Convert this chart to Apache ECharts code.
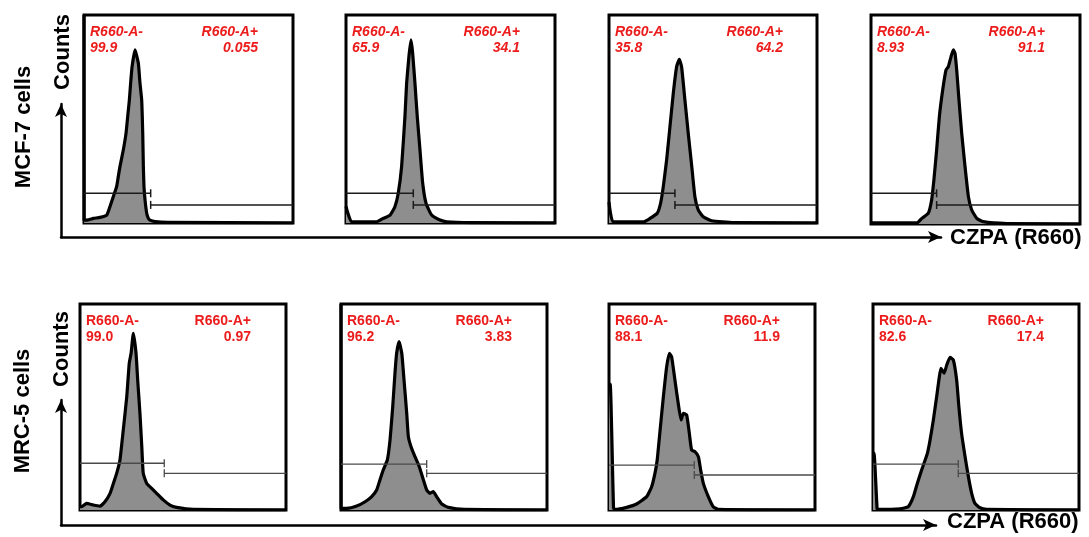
<!DOCTYPE html>
<html>
<head>
<meta charset="utf-8">
<script src="https://cdn.jsdelivr.net/npm/echarts@6/dist/echarts.min.js"></script>
<style>html,body{margin:0;padding:0;background:#fff}#c{width:1089px;height:537px}</style>
</head>
<body>
<div id="c"></div>
<script>
// ---------- DATA ----------
const rowLabels = ['MCF-7 cells', 'MRC-5 cells'];
const yAxisName = 'Counts';
const xAxisName = 'CZPA (R660)';
const negGateName = 'R660-A-';
const posGateName = 'R660-A+';
// percentages in each gate (panels: MCF-7 x4, MRC-5 x4)
const negPct = ['99.9', '65.9', '35.8', '8.93', '99.0', '96.2', '88.1', '82.6'];
const posPct = ['0.055', '34.1', '64.2', '91.1', '0.97', '3.83', '11.9', '17.4'];
// gate boundary (channel, 0-100) and the heights of the two gate bars (% of max)
const gateX = [31.9, 32.2, 31.7, 31.4, 40.9, 41.6, 41.4, 41.4];
const gateNegY = [14.3, 14.3, 14.3, 14.7, 22.7, 22.3, 21.8, 22.3];
const gatePosY = [8.7, 8.7, 8.7, 9.1, 17.8, 17.8, 17.0, 17.8];

// histograms: [channel (0-100), counts (% of panel max)]
const mcf7_1 = [[0,100],[0.05,1.4],[1.4,1.4],[4.5,2.2],[7.7,2.7],[10.9,3.8],[12.4,7.8],[14.0,12.6],[15.6,17.5],[16.4,22.3],[17.2,27.1],[18.8,35.1],[20.1,43.1],[20.9,51.1],[21.7,59.1],[22.3,67.1],[23.0,75.1],[24.4,83.2],[26.0,76.8],[26.8,67.1],[27.6,59.1],[28.1,43.1],[28.4,27.1],[28.7,17.5],[29.2,11.1],[30.0,4.7],[30.8,2.2],[31.6,1.4],[34.0,0.7],[40,0.3],[100,0]];
const mcf7_2 = [[0,8],[2.7,0.6],[14.7,0.6],[17.8,2.2],[21.1,3.8],[23.4,7.8],[25.0,14.3],[26.6,27.1],[28.2,51.1],[29.0,67.1],[30.1,80.0],[31.1,88.0],[31.9,81.6],[33.0,67.1],[34.1,51.1],[35.4,35.1],[36.7,19.1],[38.3,9.5],[41.0,3.8],[45.0,1.4],[48.2,0.6],[60,0.2],[100,0]];
const mcf7_3 = [[0,10],[2,0.5],[16.5,0.5],[19.7,2.2],[23.2,4.7],[24.8,9.5],[26.1,17.5],[27.7,30.3],[29.3,46.3],[30.9,62.3],[32.5,75.1],[33.8,78.7],[34.9,75.1],[36.5,59.1],[38.1,43.1],[39.8,27.1],[41.3,12.6],[42.9,6.3],[45.3,3.0],[49.4,1.1],[60,0.2],[100,0]];
const mcf7_4 = [[0,0.5],[21.9,0.5],[24.3,2.7],[27.4,5.1],[29.0,11.5],[30.1,21.1],[31.4,35.4],[32.7,51.3],[34.3,64.1],[35.9,73.7],[37.0,75.3],[38.3,80.1],[39.4,83.3],[40.2,81.7],[41.0,73.7],[42.1,59.3],[43.4,43.4],[45.0,27.4],[46.6,13.1],[48.2,6.7],[50.6,2.7],[53.7,1.1],[65,0.2],[100,0]];
const mrc5_1 = [[0,1.6],[0.8,1.6],[3.2,3.2],[6.5,2.4],[9.7,1.9],[12.1,4.0],[14.6,8.1],[16.2,12.9],[17.8,17.8],[19.4,24.3],[21.0,38.8],[22.7,55.0],[23.9,71.2],[24.8,76.1],[25.9,85.8],[27.2,76.1],[28.0,63.1],[29.1,46.9],[30.0,30.7],[30.7,17.8],[32.4,12.9],[34.8,10.5],[37.2,8.1],[40.4,4.9],[43.7,2.4],[46.9,1.3],[55,0.3],[100,0]];
const mrc5_2 = [[0,100],[0.05,0.8],[2.8,0.8],[7.6,1.9],[11.7,4.0],[14.9,6.5],[17.3,9.7],[18.9,14.6],[20.5,19.4],[22.5,24.3],[23.8,34.0],[25.1,50.1],[26.2,66.4],[27.0,76.1],[28.2,81.7],[29.5,76.1],[30.6,63.1],[31.9,46.9],[32.7,35.6],[34.0,30.7],[35.9,25.9],[38.0,21.0],[40.0,14.6],[41.6,9.7],[43.2,8.1],[44.8,8.9],[46.4,6.5],[48.9,2.9],[52.1,1.3],[60,0.3],[100,0]];
const mrc5_3 = [[0,61],[0.6,61],[2.2,1],[2.9,0.3],[8.6,1.3],[13.4,2.9],[18.3,6.5],[20.7,11.3],[22.3,17.8],[23.4,24.3],[24.8,38.8],[26.4,55.0],[28.0,69.6],[29.3,76.1],[30.4,74.4],[32.0,63.1],[33.6,51.8],[35.0,43.7],[36.1,46.9],[37.7,46.1],[39.0,37.2],[40.1,29.1],[41.7,28.3],[43.4,25.9],[44.5,19.4],[45.8,12.9],[48.2,6.5],[50.6,1.6],[53.1,0.3],[100,0]];
const mrc5_4 = [[0,27.5],[0.5,27.5],[2,0.5],[2.6,0.3],[13.1,0.6],[17.1,1.6],[19.6,6.5],[21.5,12.9],[23.6,19.4],[26.4,27.5],[27.7,34.0],[29.3,43.7],[30.9,55.0],[32.2,64.7],[33.0,68.8],[34.5,66.4],[35.8,70.4],[37.4,74.1],[39.0,72.8],[40.6,63.1],[41.7,50.1],[43.0,37.2],[44.7,25.9],[46.3,16.2],[47.9,8.1],[49.5,3.2],[51.9,1.1],[55.2,0.3],[100,0]];
const histograms = [mcf7_1, mcf7_2, mcf7_3, mcf7_4, mrc5_1, mrc5_2, mrc5_3, mrc5_4];

// ---------- LAYOUT ----------
const panelLeft = [84, 346, 609, 871, 80, 341, 609, 873];
const panelTop = [15, 15, 15, 15, 304, 304, 304, 304];
const panelW = [209, 209, 208, 209, 206, 206, 206, 206];
const panelH = [208, 208, 208, 209, 206, 206, 206, 206];
const FONT = 'Liberation Sans, Arial, Helvetica, sans-serif';
const RED = '#ec1c1c';

const chart = echarts.init(document.getElementById('c'), null, {renderer: 'canvas'});

const grids = [], xAxes = [], yAxes = [], series = [], graphics = [];

function makeGateRender(color, width) {
  return function (params, api) {
    const gx = api.value(0), ny = api.value(1), py = api.value(2);
    const a = api.coord([0, ny]), b = api.coord([gx, ny]);
    const c = api.coord([gx, py]), d = api.coord([100, py]);
    const cap = 4;
    const style = {stroke: color, lineWidth: width, fill: null};
    return {type: 'group', children: [
      {type: 'line', shape: {x1: a[0], y1: a[1], x2: b[0], y2: b[1]}, style: style},
      {type: 'line', shape: {x1: b[0], y1: b[1] - cap, x2: b[0], y2: b[1] + cap}, style: style},
      {type: 'line', shape: {x1: c[0], y1: c[1], x2: d[0], y2: d[1]}, style: style},
      {type: 'line', shape: {x1: c[0], y1: c[1] - cap, x2: c[0], y2: c[1] + cap}, style: style}
    ]};
  };
}

for (let i = 0; i < 8; i++) {
  const topRow = i < 4;
  grids.push({left: panelLeft[i], top: panelTop[i], width: panelW[i], height: panelH[i],
    show: true, borderColor: '#000', borderWidth: 3, backgroundColor: '#fff', containLabel: false});
  xAxes.push({gridIndex: i, type: 'value', min: 0, max: 100, show: false});
  yAxes.push({gridIndex: i, type: 'value', min: 0, max: 100, show: false});
  series.push({
    type: 'line', xAxisIndex: i, yAxisIndex: i, data: histograms[i],
    showSymbol: false, symbol: 'none', smooth: 0.15, z: 2,
    lineStyle: {color: '#000', width: 3.2, join: 'round'},
    areaStyle: {color: '#8e8e8e', opacity: 1},
    animation: false
  });
  series.push({
    type: 'custom', xAxisIndex: i, yAxisIndex: i, z: 3,
    data: [[gateX[i], gateNegY[i], gatePosY[i]]],
    renderItem: makeGateRender(topRow ? '#1a1a1a' : '#4a4a4a', topRow ? 1.5 : 1.3),
    animation: false
  });
  const txtStyle = {
    fill: RED, fontFamily: FONT, fontSize: 14, fontWeight: 'bold',
    fontStyle: topRow ? 'italic' : 'normal', verticalAlign: 'middle'
  };
  const L = panelLeft[i], T = panelTop[i];
  const rightX = L + (topRow ? 174 : 171);
  graphics.push({type: 'text', x: L + 6, y: T + 17, z: 10, style: Object.assign({}, txtStyle, {text: negGateName, align: 'left'})});
  graphics.push({type: 'text', x: L + 6, y: T + 33, z: 10, style: Object.assign({}, txtStyle, {text: negPct[i], align: 'left'})});
  graphics.push({type: 'text', x: rightX, y: T + 17, z: 10, style: Object.assign({}, txtStyle, {text: posGateName, align: 'right'})});
  graphics.push({type: 'text', x: rightX, y: T + 33, z: 10, style: Object.assign({}, txtStyle, {text: posPct[i], align: 'right'})});
}

// axis-arrow grids (one per row)
const arrowGrids = [
  {left: 61, top: 104, width: 880, height: 133},
  {left: 61, top: 400, width: 875, height: 125}
];
arrowGrids.forEach(function (g, k) {
  const gi = grids.length;
  grids.push({left: g.left, top: g.top, width: g.width, height: g.height, show: false});
  const axisLine = {show: true, onZero: false, symbol: ['none', 'arrow'], symbolSize: [9, 13],
    lineStyle: {color: '#000', width: 2.5}};
  xAxes.push({gridIndex: gi, type: 'value', min: 0, max: 1, position: 'bottom', axisLine: axisLine,
    axisTick: {show: false}, axisLabel: {show: false}, splitLine: {show: false}});
  yAxes.push({gridIndex: gi, type: 'value', min: 0, max: 1, position: 'left', axisLine: axisLine,
    axisTick: {show: false}, axisLabel: {show: false}, splitLine: {show: false}});
});

const bigText = {fill: '#000', fontFamily: FONT, fontSize: 22, fontWeight: 'bold', verticalAlign: 'middle'};
// row labels and Counts (rotated)
graphics.push({type: 'text', x: 24, y: 127, rotation: Math.PI / 2, style: Object.assign({}, bigText, {text: rowLabels[0], align: 'center'})});
graphics.push({type: 'text', x: 23, y: 411, rotation: Math.PI / 2, style: Object.assign({}, bigText, {text: rowLabels[1], align: 'center'})});
graphics.push({type: 'text', x: 63, y: 52, rotation: Math.PI / 2, style: Object.assign({}, bigText, {text: yAxisName, align: 'center'})});
graphics.push({type: 'text', x: 62, y: 349, rotation: Math.PI / 2, style: Object.assign({}, bigText, {text: yAxisName, align: 'center'})});
graphics.push({type: 'text', x: 950, y: 238, style: Object.assign({}, bigText, {text: xAxisName, align: 'left'})});
graphics.push({type: 'text', x: 947, y: 522, style: Object.assign({}, bigText, {text: xAxisName, align: 'left'})});

chart.setOption({
  animation: false,
  backgroundColor: '#fff',
  grid: grids,
  xAxis: xAxes,
  yAxis: yAxes,
  series: series,
  graphic: graphics
});
</script>
</body>
</html>
